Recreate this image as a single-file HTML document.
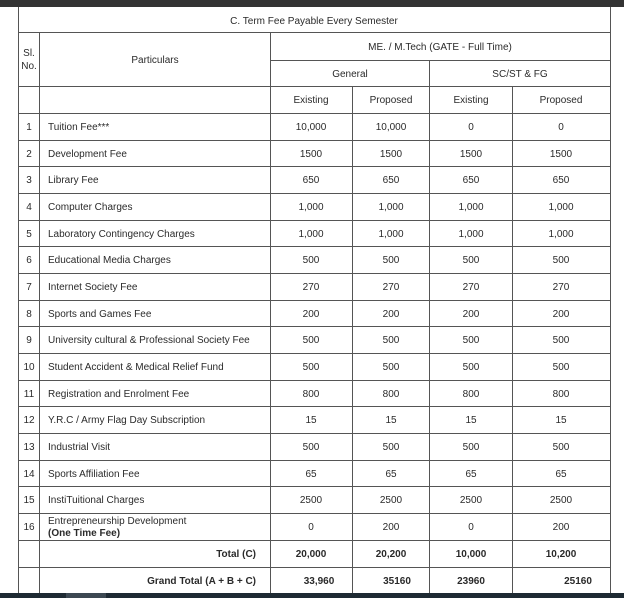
<!DOCTYPE html>
<html><head><meta charset="utf-8"><style>
html,body{margin:0;padding:0;background:#fff;}
svg{display:block;font-family:"Liberation Sans",Arial,sans-serif;}
text{fill:#2a2a2a;font-size:10px;}
</style></head><body>
<svg width="624" height="598" viewBox="0 0 624 598" xmlns="http://www.w3.org/2000/svg">
<rect x="0" y="0" width="624" height="598" fill="#fff"/>
<rect x="0" y="0" width="624" height="7" fill="#333"/>
<rect x="0" y="593" width="624" height="5" fill="#1e2a33"/>
<rect x="66" y="593" width="40" height="5" fill="#3c4852"/>
<g stroke="#555" stroke-width="1" fill="none">
<line x1="18.5" y1="7" x2="18.5" y2="593"/>
<line x1="610.5" y1="7" x2="610.5" y2="593"/>
<line x1="39.5" y1="32" x2="39.5" y2="593"/>
<line x1="270.5" y1="32" x2="270.5" y2="593"/>
<line x1="352.5" y1="86" x2="352.5" y2="593"/>
<line x1="429.5" y1="60" x2="429.5" y2="593"/>
<line x1="512.5" y1="86" x2="512.5" y2="593"/>
<line x1="18" y1="32.5" x2="611" y2="32.5"/>
<line x1="270" y1="60.5" x2="611" y2="60.5"/>
<line x1="18" y1="86.5" x2="611" y2="86.5"/>
<line x1="18" y1="113.5" x2="611" y2="113.5"/>
<line x1="18" y1="140.5" x2="611" y2="140.5"/>
<line x1="18" y1="166.5" x2="611" y2="166.5"/>
<line x1="18" y1="193.5" x2="611" y2="193.5"/>
<line x1="18" y1="220.5" x2="611" y2="220.5"/>
<line x1="18" y1="246.5" x2="611" y2="246.5"/>
<line x1="18" y1="273.5" x2="611" y2="273.5"/>
<line x1="18" y1="300.5" x2="611" y2="300.5"/>
<line x1="18" y1="326.5" x2="611" y2="326.5"/>
<line x1="18" y1="353.5" x2="611" y2="353.5"/>
<line x1="18" y1="380.5" x2="611" y2="380.5"/>
<line x1="18" y1="406.5" x2="611" y2="406.5"/>
<line x1="18" y1="433.5" x2="611" y2="433.5"/>
<line x1="18" y1="460.5" x2="611" y2="460.5"/>
<line x1="18" y1="486.5" x2="611" y2="486.5"/>
<line x1="18" y1="513.5" x2="611" y2="513.5"/>
<line x1="18" y1="540.5" x2="611" y2="540.5"/>
<line x1="18" y1="567.5" x2="611" y2="567.5"/>
</g>
<text x="314" y="24" text-anchor="middle">C. Term Fee Payable Every Semester</text>
<text x="29" y="56" text-anchor="middle">Sl.</text>
<text x="29" y="69" text-anchor="middle">No.</text>
<text x="155" y="63" text-anchor="middle">Particulars</text>
<text x="440" y="50" text-anchor="middle">ME. / M.Tech (GATE - Full Time)</text>
<text x="350" y="77" text-anchor="middle">General</text>
<text x="520" y="77" text-anchor="middle">SC/ST &amp; FG</text>
<text x="311" y="103" text-anchor="middle">Existing</text>
<text x="391" y="103" text-anchor="middle">Proposed</text>
<text x="471" y="103" text-anchor="middle">Existing</text>
<text x="561" y="103" text-anchor="middle">Proposed</text>
<g font-size="9.5">
<g text-anchor="middle">
<text x="29" y="130">1</text><text x="29" y="157">2</text><text x="29" y="183">3</text><text x="29" y="210">4</text><text x="29" y="237">5</text><text x="29" y="263">6</text><text x="29" y="290">7</text><text x="29" y="317">8</text><text x="29" y="343">9</text><text x="29" y="370">10</text><text x="29" y="397">11</text><text x="29" y="423">12</text><text x="29" y="450">13</text><text x="29" y="477">14</text><text x="29" y="503">15</text><text x="29" y="530">16</text>
</g>
<text x="48" y="130">Tuition Fee***</text>
<text x="48" y="157">Development Fee</text>
<text x="48" y="183">Library Fee</text>
<text x="48" y="210">Computer Charges</text>
<text x="48" y="237">Laboratory Contingency Charges</text>
<text x="48" y="263">Educational Media Charges</text>
<text x="48" y="290">Internet Society Fee</text>
<text x="48" y="317">Sports and Games Fee</text>
<text x="48" y="343">University cultural &amp; Professional Society Fee</text>
<text x="48" y="370">Student Accident &amp; Medical Relief Fund</text>
<text x="48" y="397">Registration and Enrolment Fee</text>
<text x="48" y="423">Y.R.C / Army Flag Day Subscription</text>
<text x="48" y="450">Industrial Visit</text>
<text x="48" y="477">Sports Affiliation Fee</text>
<text x="48" y="503">InstiTuitional Charges</text>
<text x="48" y="524">Entrepreneurship Development</text>
<text x="48" y="536" font-weight="bold">(One Time Fee)</text>
<g text-anchor="middle">
<text x="311" y="130">10,000</text><text x="391" y="130">10,000</text><text x="471" y="130">0</text><text x="561" y="130">0</text>
<text x="311" y="157">1500</text><text x="391" y="157">1500</text><text x="471" y="157">1500</text><text x="561" y="157">1500</text>
<text x="311" y="183">650</text><text x="391" y="183">650</text><text x="471" y="183">650</text><text x="561" y="183">650</text>
<text x="311" y="210">1,000</text><text x="391" y="210">1,000</text><text x="471" y="210">1,000</text><text x="561" y="210">1,000</text>
<text x="311" y="237">1,000</text><text x="391" y="237">1,000</text><text x="471" y="237">1,000</text><text x="561" y="237">1,000</text>
<text x="311" y="263">500</text><text x="391" y="263">500</text><text x="471" y="263">500</text><text x="561" y="263">500</text>
<text x="311" y="290">270</text><text x="391" y="290">270</text><text x="471" y="290">270</text><text x="561" y="290">270</text>
<text x="311" y="317">200</text><text x="391" y="317">200</text><text x="471" y="317">200</text><text x="561" y="317">200</text>
<text x="311" y="343">500</text><text x="391" y="343">500</text><text x="471" y="343">500</text><text x="561" y="343">500</text>
<text x="311" y="370">500</text><text x="391" y="370">500</text><text x="471" y="370">500</text><text x="561" y="370">500</text>
<text x="311" y="397">800</text><text x="391" y="397">800</text><text x="471" y="397">800</text><text x="561" y="397">800</text>
<text x="311" y="423">15</text><text x="391" y="423">15</text><text x="471" y="423">15</text><text x="561" y="423">15</text>
<text x="311" y="450">500</text><text x="391" y="450">500</text><text x="471" y="450">500</text><text x="561" y="450">500</text>
<text x="311" y="477">65</text><text x="391" y="477">65</text><text x="471" y="477">65</text><text x="561" y="477">65</text>
<text x="311" y="503">2500</text><text x="391" y="503">2500</text><text x="471" y="503">2500</text><text x="561" y="503">2500</text>
<text x="311" y="530">0</text><text x="391" y="530">200</text><text x="471" y="530">0</text><text x="561" y="530">200</text>
</g>
<g font-weight="bold" text-anchor="middle">
<text x="311" y="557">20,000</text><text x="391" y="557">20,200</text><text x="471" y="557">10,000</text><text x="561" y="557">10,200</text>
<text x="319" y="584">33,960</text><text x="397" y="584">35160</text><text x="471" y="584">23960</text><text x="578" y="584">25160</text>
</g>
<text x="256" y="557" text-anchor="end" font-weight="bold">Total (C)</text>
<text x="256" y="584" text-anchor="end" font-weight="bold">Grand Total (A + B + C)</text>
</g>
</svg>
</body></html>
